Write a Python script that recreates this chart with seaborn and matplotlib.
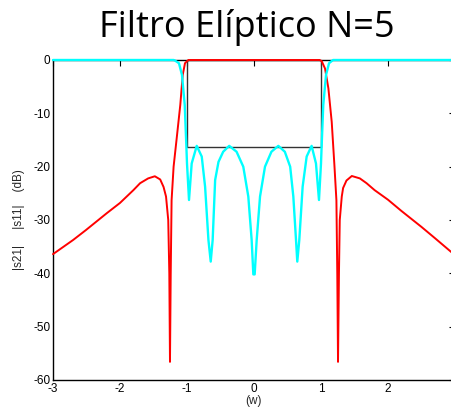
import numpy as np
import pandas as pd
import matplotlib
matplotlib.use("Agg")
import matplotlib.pyplot as plt
import seaborn as sns

# --- data ---
s21_w = [-3.0, -2.70, -2.51, -2.20, -2.0, -1.80, -1.70, -1.58, -1.48, -1.40,
         -1.35, -1.313, -1.28, -1.264, -1.254, -1.243, -1.23, -1.20,
         -1.154, -1.10, -1.064, -1.03, -0.98,
         0.0,
         0.98, 1.01, 1.06, 1.11, 1.16, 1.20, 1.23, 1.243, 1.254, 1.268, 1.28,
         1.31, 1.33, 1.38, 1.46, 1.58, 1.68, 1.80, 2.0, 2.2, 2.5, 2.7, 3.0]
s21_db = [-36.4, -33.75, -31.9, -28.75, -26.8, -24.4, -23.1, -22.2, -21.8, -22.4,
          -23.8, -25.6, -30.0, -40.0, -56.6, -40.0, -26.3, -20.0,
          -14.7, -8.4, -2.8, -0.6, 0.0,
          0.0,
          0.0, -0.2, -1.6, -5.3, -11.6, -19.7, -26.3, -40.0, -56.6, -40.0, -30.0,
          -25.6, -24.0, -22.6, -21.75, -22.2, -23.1, -24.4, -26.2, -28.3, -31.3, -33.4, -36.6]

s11_w = [-3.0, -1.20, -1.18, -1.12, -1.075, -1.034, -1.01, -1.0, -0.97,
         -0.93, -0.855, -0.78, -0.73, -0.68, -0.646, -0.617, -0.58, -0.53,
         -0.46, -0.37, -0.26, -0.16, -0.085, -0.035, -0.01, 0.01,
         0.04, 0.09, 0.164, 0.26, 0.363, 0.46, 0.54, 0.587, 0.627, 0.646,
         0.676, 0.726, 0.786, 0.86, 0.925, 0.97, 1.0, 1.01, 1.034, 1.075,
         1.12, 1.18, 3.0]
s11_db = [0.0, 0.0, -0.1, -0.6, -2.8, -8.4, -16.0, -19.4, -26.25,
          -19.4, -16.1, -18.1, -23.75, -33.75, -37.8, -33.75, -22.5, -19.1,
          -17.2, -16.1, -17.2, -20.0, -25.6, -33.75, -40.2, -40.2,
          -33.75, -25.6, -20.0, -17.2, -16.1, -17.2, -20.0, -25.6, -33.75, -37.8,
          -33.75, -23.75, -18.1, -16.1, -19.4, -26.25, -19.4, -16.0, -8.4, -2.8,
          -0.6, 0.0, 0.0]

# passband box (edges and return-loss level)
box_w = [-1.0, -1.0, 1.0, 1.0, -1.0]
box_db = [0.0, -16.3, -16.3, 0.0, 0.0]

x_ticks = [-3, -2, -1, 0, 1, 2, 3]
x_labels = ["-3", "-2", "-1", "0", "1", "2", ""]
y_ticks = [0, -10, -20, -30, -40, -50, -60]

df21 = pd.DataFrame({"w": s21_w, "dB": s21_db})
df11 = pd.DataFrame({"w": s11_w, "dB": s11_db})
dfbox = pd.DataFrame({"w": box_w, "dB": box_db})

sns.set_style("white")
plt.rcParams["font.family"] = ["Liberation Sans", "DejaVu Sans"]
plt.rcParams["axes.unicode_minus"] = False

fig = plt.figure(figsize=(4.52, 4.08), dpi=100)
ax = fig.add_axes([53 / 452, 28 / 408, 402 / 452, 320 / 408])

sns.lineplot(data=dfbox, x="w", y="dB", ax=ax, sort=False, estimator=None,
             color="#333333", lw=1.0)
sns.lineplot(data=df21, x="w", y="dB", ax=ax, sort=False, estimator=None,
             color="red", lw=1.4, zorder=3, clip_on=False)
sns.lineplot(data=df11, x="w", y="dB", ax=ax, sort=False, estimator=None,
             color="cyan", lw=1.7, zorder=3, clip_on=False)

ax.set_xlim(-3, 3)
ax.set_ylim(-60, 0)
ax.set_xticks(x_ticks)
ax.set_xticklabels(x_labels)
ax.set_yticks(y_ticks)
ax.tick_params(direction="in", length=4, width=0.8, labelsize=8.5,
               top=True, right=True, pad=2, colors="black")
for sp in ax.spines.values():
    sp.set_color("black")
    sp.set_linewidth(1.0)

ax.set_xlabel("(w)", fontsize=8.5, labelpad=0)
ax.set_ylabel("|s21|     |s11|    (dB)", fontsize=8.5, labelpad=6)

fig.text(0.545, 0.91, "Filtro Elíptico N=5", ha="center", va="baseline",
         fontsize=26, family="Open Sans", color="black")

fig.savefig("out.png", dpi=100)
